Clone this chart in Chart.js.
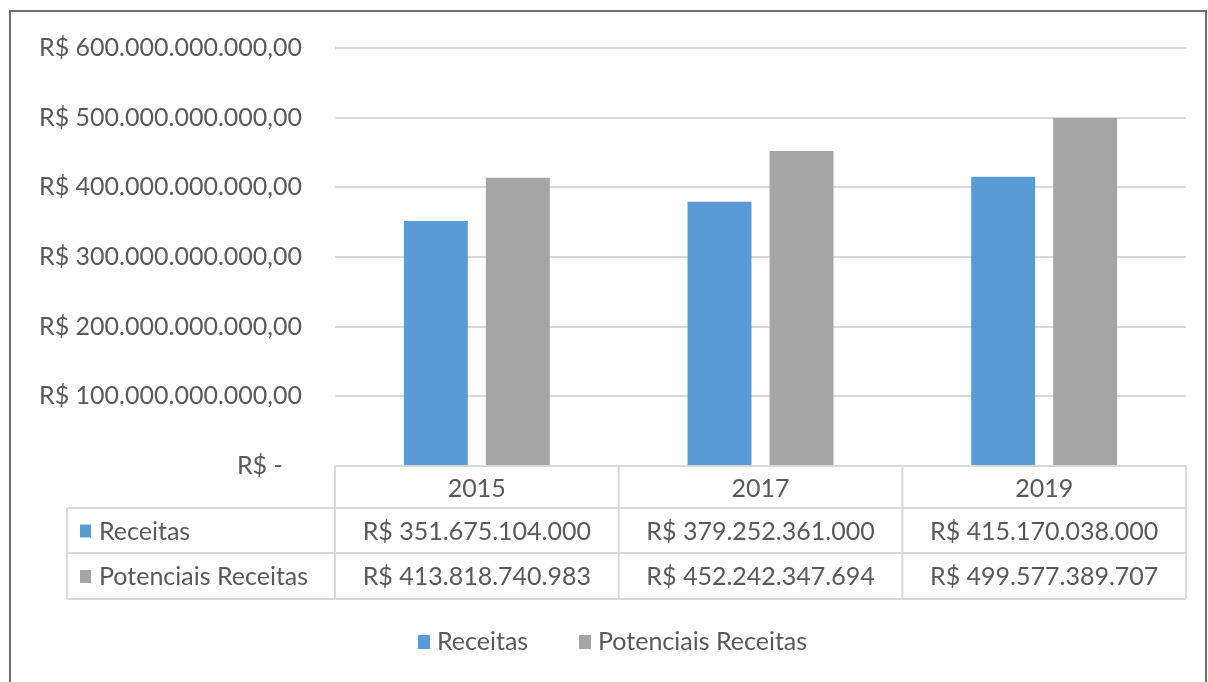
<!DOCTYPE html>
<html>
<head>
<meta charset="utf-8">
<script src="https://cdn.jsdelivr.net/npm/chart.js@4"></script>
<style>
  html, body { margin: 0; padding: 0; background: #fff; }
  #wrap { width: 1208px; height: 682px; position: relative; }
</style>
</head>
<body>
<div id="wrap"><canvas id="receitasChart"></canvas></div>
<script>
const years = ['2015', '2017', '2019'];
const receitas = [351675104000, 379252361000, 415170038000];
const potenciais = [413818740983, 452242347694, 499577389707];
const seriesNames = ['Receitas', 'Potenciais Receitas'];
const tableText = [
    ['R$ 351.675.104.000', 'R$ 379.252.361.000', 'R$ 415.170.038.000'],
    ['R$ 413.818.740.983', 'R$ 452.242.347.694', 'R$ 499.577.389.707']
];

const FONT = "Lato, 'Open Sans', sans-serif";
const TEXT = '#595959';
const LINE = '#d9d9d9';
const SIZE = 25;

Chart.defaults.font.family = FONT;
Chart.defaults.color = TEXT;

// Excel accounting style: R$ 600.000.000.000,00 / R$ -
function brl(v) {
    if (v === 0) return 'R$ -   ';
    let s = Math.round(v).toString().replace(/\B(?=(\d{3})+(?!\d))/g, '.');
    return 'R$ ' + s + ',00';
}

// data table + legend + frame, Excel style
const excelExtras = {
    id: 'excelExtras',
    afterDraw(chart) {
        const ctx = chart.ctx;
        const x = chart.scales.x;
        const area = chart.chartArea;
        const half = (area.right - area.left) / years.length / 2;
        const rowTop = area.bottom;          // 466
        const rows = [rowTop, 508, 553, 599];
        const leftCol = 67;

        ctx.save();
        ctx.strokeStyle = LINE;
        ctx.lineWidth = 2;
        ctx.beginPath();
        ctx.moveTo(area.left, rows[0]); ctx.lineTo(area.right, rows[0]);
        for (let i = 1; i < rows.length; i++) {
            ctx.moveTo(leftCol, rows[i]); ctx.lineTo(area.right, rows[i]);
        }
        ctx.moveTo(leftCol, rows[1]); ctx.lineTo(leftCol, rows[3]);
        years.forEach((y, i) => {
            const c = x.getPixelForValue(i);
            ctx.moveTo(c - half, rows[0]); ctx.lineTo(c - half, rows[3]);
        });
        ctx.moveTo(area.right, rows[0]); ctx.lineTo(area.right, rows[3]);
        ctx.stroke();

        ctx.fillStyle = TEXT;
        ctx.font = SIZE + 'px ' + FONT;
        ctx.textBaseline = 'middle';
        ctx.textAlign = 'center';
        years.forEach((y, i) => {
            const c = x.getPixelForValue(i);
            ctx.fillText(y, c, (rows[0] + rows[1]) / 2 + 2);
            tableText.forEach((r, j) => {
                ctx.fillText(r[i], c, (rows[j + 1] + rows[j + 2]) / 2 + 1);
            });
        });

        // row labels with swatches
        ctx.textAlign = 'left';
        chart.data.datasets.forEach((ds, j) => {
            const cy = (rows[j + 1] + rows[j + 2]) / 2 + 1;
            ctx.fillStyle = ds.backgroundColor;
            ctx.fillRect(80, cy - 7, 11, 13);
            ctx.fillStyle = TEXT;
            ctx.fillText(ds.label, 99, cy);
        });

        // legend
        const ly = 642;
        const legendX = [418, 579];
        chart.data.datasets.forEach((ds, j) => {
            ctx.fillStyle = ds.backgroundColor;
            ctx.fillRect(legendX[j], ly - 7, 12, 14);
            ctx.fillStyle = TEXT;
            ctx.fillText(ds.label, legendX[j] + 19, ly);
        });

        // outer frame
        ctx.strokeStyle = '#6e6e6e';
        ctx.lineWidth = 2;
        ctx.strokeRect(10, 11, 1196, 700);
        ctx.restore();
    }
};

new Chart(document.getElementById('receitasChart'), {
    type: 'bar',
    data: {
        labels: years,
        datasets: [
            { label: seriesNames[0], data: receitas, backgroundColor: '#5b9bd5' },
            { label: seriesNames[1], data: potenciais, backgroundColor: '#a5a5a5' }
        ]
    },
    options: {
        responsive: true,
        maintainAspectRatio: false,
        animation: false,
        datasets: { bar: { categoryPercentage: 0.578, barPercentage: 0.78 } },
        layout: { padding: { top: 46, right: 22, bottom: 216, left: 0 } },
        plugins: { legend: { display: false }, tooltip: { enabled: false } },
        scales: {
            x: { display: false },
            y: {
                min: 0, max: 600000000000,
                border: { display: false },
                grid: { color: LINE, lineWidth: 2, drawTicks: false },
                ticks: {
                    stepSize: 100000000000,
                    padding: 33,
                    color: TEXT,
                    font: { size: SIZE },
                    callback: (v) => brl(v)
                },
                afterFit: (scale) => { scale.width = 335; }
            }
        }
    },
    plugins: [excelExtras]
});
</script>
</body>
</html>
